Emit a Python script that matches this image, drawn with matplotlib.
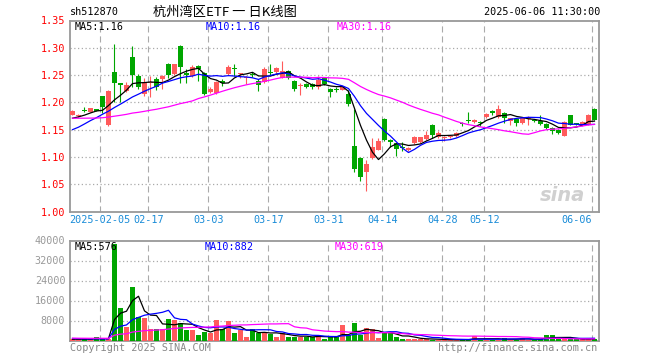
import matplotlib
matplotlib.use('Agg')
import matplotlib.pyplot as plt
import matplotlib.transforms as transforms
import numpy as np

plt.rcParams['font.family'] = ['DejaVu Sans Mono']
plt.rcParams['font.size'] = 7.3

RED = '#ff5b5b'
GREEN = '#00a600'
GRID = '#aaaaaa'

# daily candles, 2025-01-21 .. 2025-06-06 (88 sessions)
open_ = [1.177, 1.175, 1.186, 1.183, 1.187, 1.211, 1.159, 1.256, 1.235, 1.220,
         1.283, 1.248, 1.216, 1.236, 1.243, 1.243, 1.271, 1.252, 1.304, 1.253,
         1.248, 1.267, 1.254, 1.219, 1.218, 1.239, 1.252, 1.263, 1.252, 1.245,
         1.252, 1.240, 1.237, 1.255, 1.256, 1.245, 1.258, 1.240, 1.230, 1.234,
         1.234, 1.228, 1.245, 1.225, 1.223, 1.223, 1.216, 1.120, 1.098, 1.072,
         1.098, 1.113, 1.170, 1.131, 1.125, 1.118, 1.113, 1.125, 1.128, 1.133,
         1.159, 1.136, 1.134, 1.136, 1.138, 1.161, 1.167, 1.164, 1.164, 1.174,
         1.185, 1.173, 1.181, 1.165, 1.170, 1.162, 1.170, 1.167, 1.166, 1.161,
         1.153, 1.150, 1.139, 1.176, 1.161, 1.158, 1.160, 1.188]
high = [1.186, 1.178, 1.191, 1.190, 1.188, 1.212, 1.222, 1.307, 1.236, 1.238,
        1.303, 1.252, 1.244, 1.248, 1.246, 1.250, 1.272, 1.271, 1.305, 1.262,
        1.268, 1.268, 1.256, 1.228, 1.240, 1.242, 1.269, 1.270, 1.254, 1.248,
        1.256, 1.242, 1.264, 1.270, 1.265, 1.275, 1.260, 1.241, 1.236, 1.236,
        1.236, 1.248, 1.247, 1.226, 1.228, 1.230, 1.222, 1.188, 1.100, 1.095,
        1.134, 1.134, 1.171, 1.132, 1.126, 1.127, 1.119, 1.138, 1.137, 1.147,
        1.160, 1.148, 1.138, 1.140, 1.146, 1.164, 1.182, 1.170, 1.165, 1.180,
        1.186, 1.195, 1.183, 1.172, 1.172, 1.173, 1.175, 1.170, 1.176, 1.163,
        1.154, 1.152, 1.166, 1.177, 1.162, 1.165, 1.178, 1.189]
low = [1.176, 1.174, 1.182, 1.183, 1.184, 1.181, 1.157, 1.201, 1.200, 1.219,
       1.228, 1.225, 1.211, 1.209, 1.223, 1.224, 1.245, 1.250, 1.235, 1.236,
       1.247, 1.240, 1.213, 1.217, 1.216, 1.230, 1.250, 1.248, 1.245, 1.233,
       1.246, 1.221, 1.235, 1.250, 1.254, 1.244, 1.243, 1.220, 1.213, 1.226,
       1.225, 1.225, 1.232, 1.209, 1.219, 1.222, 1.194, 1.073, 1.055, 1.038,
       1.097, 1.112, 1.130, 1.119, 1.101, 1.110, 1.111, 1.124, 1.126, 1.131,
       1.134, 1.134, 1.130, 1.135, 1.137, 1.156, 1.162, 1.162, 1.156, 1.171,
       1.177, 1.172, 1.162, 1.159, 1.156, 1.161, 1.159, 1.164, 1.159, 1.152,
       1.142, 1.142, 1.138, 1.158, 1.158, 1.157, 1.159, 1.167]
close = [1.185, 1.177, 1.184, 1.190, 1.185, 1.191, 1.221, 1.236, 1.232, 1.232,
         1.251, 1.228, 1.238, 1.238, 1.228, 1.249, 1.251, 1.270, 1.265, 1.251,
         1.265, 1.261, 1.216, 1.225, 1.237, 1.236, 1.264, 1.262, 1.253, 1.246,
         1.250, 1.231, 1.261, 1.253, 1.263, 1.258, 1.245, 1.224, 1.232, 1.228,
         1.228, 1.241, 1.234, 1.219, 1.222, 1.229, 1.197, 1.078, 1.063, 1.087,
         1.118, 1.130, 1.131, 1.127, 1.114, 1.116, 1.117, 1.136, 1.136, 1.141,
         1.140, 1.144, 1.135, 1.138, 1.144, 1.160, 1.165, 1.168, 1.163, 1.179,
         1.180, 1.187, 1.171, 1.171, 1.162, 1.171, 1.174, 1.166, 1.160, 1.153,
         1.147, 1.144, 1.164, 1.159, 1.160, 1.164, 1.177, 1.168]
volume = [500, 500, 500, 500, 1600, 500, 800, 38500, 13200, 5600,
          21600, 9600, 9200, 4800, 4800, 4800, 8800, 8200, 7200, 4100,
          4100, 2100, 3500, 3200, 8200, 4800, 7700, 2900, 4100, 1300,
          4500, 2900, 3500, 2800, 1600, 2900, 1300, 1300, 1600, 1600,
          1300, 2400, 800, 1300, 1300, 6100, 2100, 6900, 2100, 5200,
          4500, 900, 2900, 2900, 1600, 800, 800, 800, 500, 500,
          400, 400, 250, 250, 250, 400, 400, 1900, 400, 400,
          400, 400, 1000, 400, 400, 900, 400, 400, 500, 2300,
          2300, 500, 500, 600, 600, 500, 500, 680]

# sessions before the window, only needed to start the moving averages
prev_close = [1.178, 1.182, 1.185, 1.180, 1.176, 1.183, 1.188, 1.184, 1.179, 1.181,
              1.186, 1.183, 1.178, 1.175, 1.180, 1.184, 1.181, 1.177, 1.183, 1.185,
              1.132, 1.125, 1.128, 1.131, 1.129, 1.165, 1.168, 1.170, 1.167]
prev_volume = [1000, 950, 1050, 1000, 900, 1100, 1000, 950, 1000, 1050,
               1000, 900, 1000, 1100, 950, 1000, 1000, 1050, 900, 1000,
               1100, 1200, 1000, 1100, 1100, 500, 550, 500, 500]

tick_pos = [5, 13, 23, 33, 43, 52, 62, 69, 87]
tick_labels = ['2025-02-05', '02-17', '03-03', '03-17', '03-31', '04-14',
               '04-28', '05-12', '06-06']
price_ticks = [1.00, 1.05, 1.10, 1.15, 1.20, 1.25, 1.30, 1.35]
vol_ticks = [8000, 16000, 24000, 32000, 40000]

open_ = np.array(open_); high = np.array(high); low = np.array(low)
close = np.array(close); volume = np.array(volume, dtype=float)
n = len(close)
x = np.arange(n)


def ma(prev, vals, w):
    a = np.concatenate([prev, vals])
    return np.convolve(a, np.ones(w) / w, mode='valid')[-len(vals):]


up = close >= open_
colors = np.where(up, RED, GREEN)

W, H = 660, 360
fig = plt.figure(figsize=(6.6, 3.6), dpi=100)


def px_axes(l, t, r, b):
    return fig.add_axes([l / W, 1 - b / H, (r - l) / W, (b - t) / H])


ax1 = px_axes(69.5, 20.5, 598.5, 211.5)
ax2 = px_axes(69.5, 240.5, 598.5, 340.5)
xmin, xmax = -0.5, 87.67

for ax in (ax1, ax2):
    ax.set_xlim(xmin, xmax)
    for s in ax.spines.values():
        s.set_color('#999999')
        s.set_linewidth(1.3)
    ax.set_xticks([])
    ax.tick_params(axis='y', length=0, pad=3)
    for p in tick_pos:
        ax.axvline(p - 0.37, color=GRID, lw=0.8, ls=(0, (5.5, 3.5)), zorder=0)

# price panel
ax1.set_ylim(1.00, 1.35)
ax1.set_yticks(price_ticks)
ax1.set_yticklabels(['%.2f' % v for v in price_ticks], color='red')
for v in price_ticks[1:-1]:
    ax1.axhline(v, color=GRID, lw=0.9, ls=(0, (1, 2)), zorder=0)

ax1.text(0.975, 0.085, 'sina', transform=ax1.transAxes, ha='right', va='center',
         fontsize=14, style='italic', weight='bold', family='DejaVu Sans',
         color='#d0d0d0', zorder=0.5)

ax1.vlines(x, low, high, colors=colors, lw=0.8, zorder=2)
body = np.maximum(np.abs(close - open_), 0.0018)
ax1.bar(x, body, bottom=np.minimum(open_, close), width=0.82, color=colors,
        lw=0, zorder=3)

ax1.plot(x, ma(prev_close, close, 5), color='black', lw=0.9, zorder=4)
ax1.plot(x, ma(prev_close, close, 10), color='#0000ff', lw=0.9, zorder=4)
ax1.plot(x, ma(prev_close, close, 30), color='#ff00ff', lw=0.9, zorder=4)

trans = transforms.blended_transform_factory(ax1.transData, ax1.transAxes)
for p, lab in zip(tick_pos, tick_labels):
    ha = 'right' if p == tick_pos[-1] else 'center'
    ax1.text(p - 0.37, -0.044, lab, transform=trans, ha=ha, va='center',
             color='#1a8cd8')

# volume panel
ax2.set_ylim(0, 40000)
ax2.set_yticks(vol_ticks)
ax2.set_yticklabels([str(v) for v in vol_ticks], color='#999999')
for v in vol_ticks[:-1]:
    ax2.axhline(v, color=GRID, lw=0.9, ls=(0, (1, 2)), zorder=0)

ax2.bar(x, volume, width=0.82, color=colors, lw=0, zorder=3)
ax2.plot(x, ma(prev_volume, volume, 5), color='black', lw=0.9, zorder=4)
ax2.plot(x, ma(prev_volume, volume, 10), color='#0000ff', lw=0.9, zorder=4)
ax2.plot(x, ma(prev_volume, volume, 30), color='#ff00ff', lw=0.9, zorder=4)


def ftext(px, py, s, **kw):
    fig.text(px / W, 1 - py / H, s, va='center', **kw)


ftext(70, 12, 'sh512870')
ftext(224.5, 12, '杭州湾区ETF 一 日K线图', ha='center', fontsize=9.5,
      family=['Noto Sans CJK SC', 'DejaVu Sans'])
ftext(600, 12, '2025-06-06 11:30:00', ha='right')

ftext(75, 27, 'MA5:1.16', color='black')
ftext(206, 27, 'MA10:1.16', color='#0000ff')
ftext(337, 27, 'MA30:1.16', color='#ff00ff')

ftext(75, 247, 'MA5:576', color='black')
ftext(205, 247, 'MA10:882', color='#0000ff')
ftext(335, 247, 'MA30:619', color='#ff00ff')

ftext(70, 348, 'Copyright 2025 SINA.COM', color='#888888')
ftext(597, 348, 'http://finance.sina.com.cn', ha='right', color='#888888')

fig.savefig('out.png', dpi=100)
